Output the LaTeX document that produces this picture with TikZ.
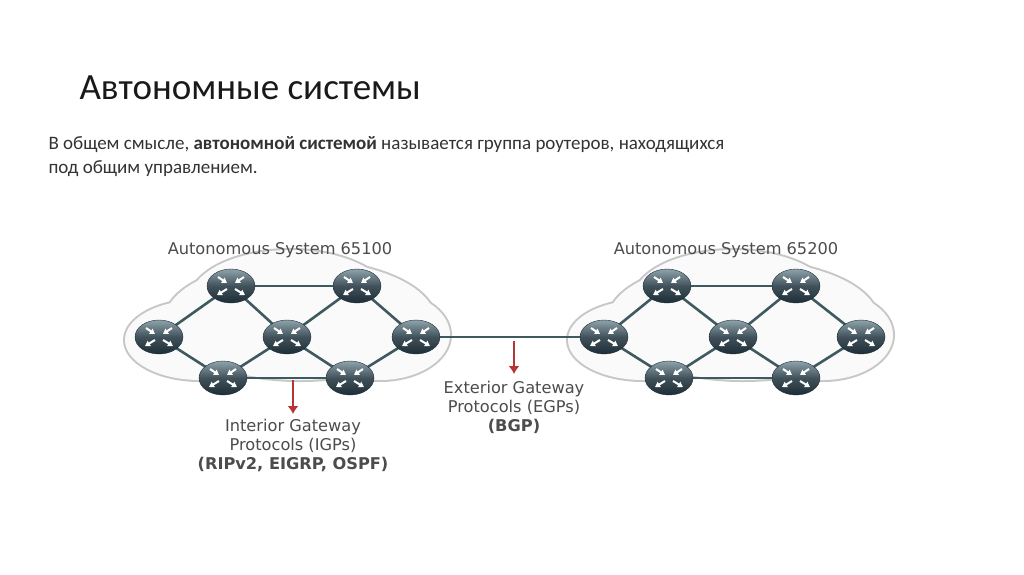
\documentclass[tikz,border=0pt]{standalone}
\usepackage{fontspec}
\usetikzlibrary{shapes.geometric,arrows.meta}
\setmainfont{Carlito}
\newfontfamily\djfont{DejaVu Sans}
\definecolor{rtop}{HTML}{8FA3AB}
\definecolor{rbot}{HTML}{1E2E38}
\definecolor{lnkc}{HTML}{3E5A5E}
\begin{document}
\begin{tikzpicture}[x=1pt,y=-1pt,
  rt/.style={ellipse,minimum width=48pt,minimum height=34pt,inner sep=0pt,
    shade,top color=rtop,bottom color=rbot,middle color=rbot!70!rtop,draw=rbot},
  lnk/.style={draw=lnkc,line width=2.6pt},
  lbl/.style={font=\djfont\fontsize{16.2}{19}\selectfont,text=black!70,align=center},
  redarr/.style={draw=red!65!black!80,line width=2.5pt,-{Latex[length=8pt,width=11pt]}}]
\useasboundingbox (0,0) rectangle (1024,574);
\fill[white] (0,0) rectangle (1024,574);
\node[anchor=west,font=\fontsize{37}{42}\selectfont,text=black!90] (title) at (76,88) {Автономные системы};
\node[anchor=north west,align=left,font=\fontsize{19}{24}\selectfont,text=black!80] (txt) at (45,133)
  {В общем смысле, \textbf{автономной системой} называется группа роутеров, находящихся\\под общим управлением.};
% clouds
\foreach \ox in {0,443}{
 \begin{scope}[xshift=\ox]
 \foreach \p in {{(300,320) ellipse (135 and 60)},{(200,340) ellipse (75 and 40)},{(380,335) ellipse (70 and 45)},{(290,300) ellipse (100 and 50)}}
   \draw[black!22,line width=4pt] \p;
 \foreach \p in {{(300,320) ellipse (135 and 60)},{(200,340) ellipse (75 and 40)},{(380,335) ellipse (70 and 45)},{(290,300) ellipse (100 and 50)}}
   \fill[black!2] \p;
 \end{scope}}
\node[lbl] (as1) at (280,250) {Autonomous System 65100};
\node[lbl] (as2) at (726,250) {Autonomous System 65200};
% routers
\foreach \n/\x/\y in {a1/231/286,a2/357/286,a3/159/337,a4/287/337,a5/416/337,a6/223/378,a7/350/378,
  b1/667/286,b2/796/286,b3/604/337,b4/733/337,b5/861/337,b6/669/378,b7/796/378}
  \coordinate (\n) at (\x,\y);
\foreach \s in {a,b}{
 \foreach \u/\v in {1/2,1/3,1/4,2/4,2/5,3/6,4/6,4/7,5/7,6/7}
   \draw[lnk] (\s\u) -- (\s\v);}
\draw[lnk] (a5) -- (b3);
\foreach \n in {a1,a2,a3,a4,a5,a6,a7,b1,b2,b3,b4,b5,b6,b7}{
  \node[rt] (r\n) at (\n) {};
  \begin{scope}[shift={(\n)},white,line width=2pt,-{Triangle[length=5pt,width=6pt]}]
   \draw (-13,-9) -- (-4,-3);
   \draw (13,-9) -- (4,-3);
   \draw (-4,3) -- (-14,9);
   \draw (4,3) -- (14,9);
  \end{scope}}
\coordinate (i1) at (293,380); \coordinate (i2) at (293,414);
\draw[redarr] (i1) -- (i2);
\coordinate (e1) at (514,341); \coordinate (e2) at (514,374);
\draw[redarr] (e1) -- (e2);
\node[lbl,anchor=north] (igp) at (293,416) {Interior Gateway\\Protocols (IGPs)\\\textbf{(RIPv2, EIGRP, OSPF)}};
\node[lbl,anchor=north] (egp) at (514,378) {Exterior Gateway\\Protocols (EGPs)\\\textbf{(BGP)}};
\end{tikzpicture}
\end{document}
